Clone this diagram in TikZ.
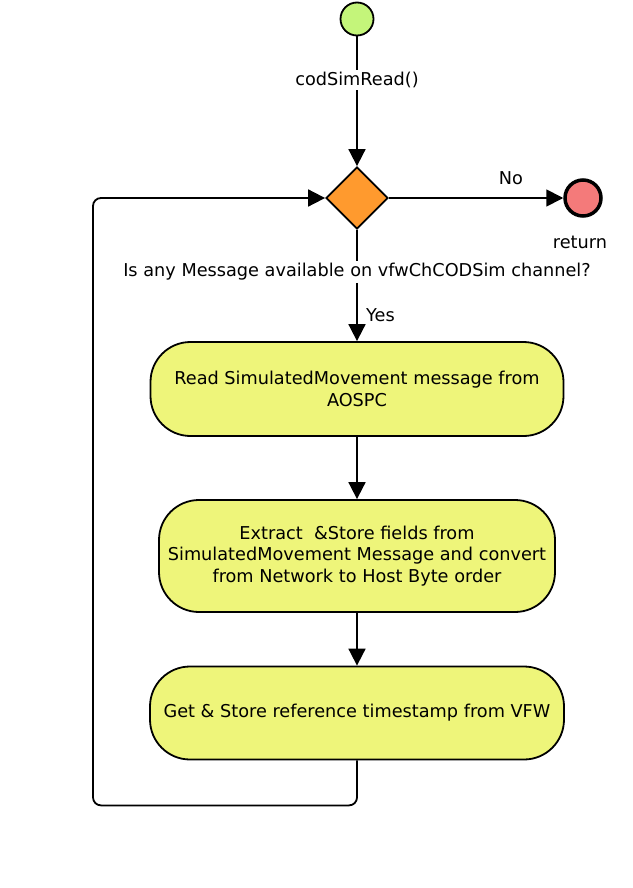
\documentclass[tikz,border=0pt]{standalone}
\usepackage{fontspec}
\setmainfont{DejaVu Sans}
\definecolor{startgreen}{RGB}{196,245,122}
\definecolor{decorange}{RGB}{255,154,46}
\definecolor{endred}{RGB}{244,122,122}
\definecolor{actyellow}{RGB}{238,245,122}
\usetikzlibrary{arrows.meta,positioning,shapes.geometric}

\begin{document}
\begin{tikzpicture}[x=1pt,y=-1pt,
    font=\fontsize{17.7}{21.5}\selectfont,
    flow/.style={line width=1.8pt, -{Triangle[length=17pt,width=17pt]}},
    plain/.style={line width=1.8pt},
    action/.style={draw, line width=1.8pt, fill=actyellow, rounded corners=40pt, align=center, inner sep=0pt},
    lbl/.style={inner sep=2pt}
  ]
  \useasboundingbox (0,0) rectangle (632,888);

  % start, decision and end
  \node[circle, draw, line width=1.8pt, fill=startgreen, minimum size=33pt, inner sep=0pt] (start) at (357,19) {};
  \node[lbl] (call) at (357,80) {codSimRead()};
  \node[diamond, draw, line width=1.8pt, fill=decorange, minimum width=62pt, minimum height=62pt, inner sep=0pt] (check) at (357,198) {};
  \node[circle, draw, line width=3.5pt, fill=endred, minimum size=36pt, inner sep=0pt] (stop) at (583,198) {};
  \node[lbl] (ret) at (580,242) {return};
  \node[lbl] (quest) at (357,272) {Is any Message available on vfwChCODSim channel?};

  % actions
  \node[action, minimum width=413pt, minimum height=94pt] (read) at (357,389)
    {Read SimulatedMovement message from\\AOSPC};
  \node[action, minimum width=396pt, minimum height=112pt] (extract) at (357,556)
    {Extract \ \&Store fields from\\SimulatedMovement Message and convert\\from Network to Host Byte order};
  \node[action, minimum width=414pt, minimum height=93pt] (stamp) at (357,713)
    {Get \& Store reference timestamp from VFW};

  % connectors
  \draw[plain] (start) -- (call);
  \draw[flow] (call) -- (check);
  \draw[flow] (check) -- node[above=9pt, pos=0.7] {No} (stop);
  \draw[plain] (check) -- (quest);
  \draw[flow] (quest) -- node[right=5pt, pos=0.55] {Yes} (read);
  \draw[flow] (read) -- (extract);
  \draw[flow] (extract) -- (stamp);
  \draw[flow, rounded corners=8pt] (stamp.south) -- ++(0,45) -| (93,198) -- (check.west);
\end{tikzpicture}
\end{document}
